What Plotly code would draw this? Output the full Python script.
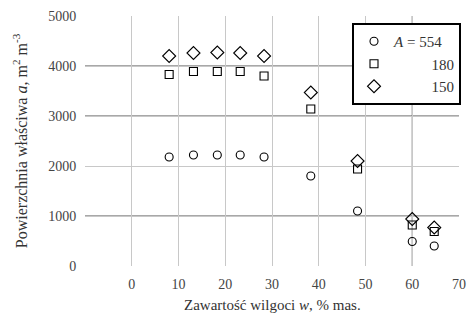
import plotly.graph_objects as go

w_A554 = [8, 13.2, 18.3, 23.2, 28.3, 38.3, 48.3, 60, 64.7]
a_A554 = [2180, 2220, 2220, 2220, 2180, 1800, 1100, 490, 400]
w_180 = [8, 13.2, 18.3, 23.2, 28.3, 38.3, 48.3, 60, 64.7]
a_180 = [3830, 3890, 3890, 3890, 3800, 3140, 1940, 820, 690]
w_150 = [8, 13.2, 18.3, 23.2, 28.3, 38.3, 48.3, 60, 64.7]
a_150 = [4200, 4260, 4270, 4260, 4200, 3470, 2100, 940, 770]
names = ["<i>A</i> = 554", "&nbsp;&nbsp;&nbsp;&nbsp;&nbsp;&nbsp;&nbsp;&nbsp;&nbsp;&nbsp;180",
         "&nbsp;&nbsp;&nbsp;&nbsp;&nbsp;&nbsp;&nbsp;&nbsp;&nbsp;&nbsp;150"]
x_ticks = [0, 10, 20, 30, 40, 50, 60, 70]
y_ticks = [0, 1000, 2000, 3000, 4000, 5000]
dark_y = [1000, 3000, 4000]
dark_x = [60]
x_title = "Zawartość wilgoci <i>w</i>, % mas."
y_title = "Powierzchnia właściwa <i>a</i>, m<sup>2</sup> m<sup>-3</sup>"

font = "Liberation Serif, Times New Roman, serif"
fig = go.Figure()
series = [(w_A554, a_A554, "circle-open", 8), (w_180, a_180, "square-open", 8),
          (w_150, a_150, "diamond-open", 10)]
for (x, y, sym, sz), nm in zip(series, names):
    fig.add_trace(go.Scatter(x=x, y=y, mode="markers", name=nm,
                             marker=dict(symbol=sym, size=sz, color="black",
                                         line=dict(color="black", width=1.1))))

shapes = []
for yv in dark_y:
    shapes.append(dict(type="line", xref="paper", yref="y", x0=0, x1=1, y0=yv, y1=yv,
                       line=dict(color="#505050", width=1), layer="below"))
for xv in dark_x:
    shapes.append(dict(type="line", xref="x", yref="paper", x0=xv, x1=xv, y0=0, y1=1,
                       line=dict(color="#505050", width=1), layer="below"))

annotations = [
    dict(text=x_title, xref="paper", yref="paper", x=(273 - 85) / 375, y=-(305 - 266) / 250,
         xanchor="center", yanchor="middle", showarrow=False,
         font=dict(family=font, size=15, color="#333")),
    dict(text=y_title, xref="paper", yref="paper", x=-(85 - 20) / 375, y=0.5,
         xanchor="center", yanchor="middle", showarrow=False, textangle=-90,
         font=dict(family=font, size=16, color="#333")),
]

fig.update_layout(
    width=468, height=327,
    margin=dict(l=85, r=8, t=16, b=61),
    paper_bgcolor="white", plot_bgcolor="white",
    font=dict(family=font, size=12, color="#333"),
    shapes=shapes, annotations=annotations,
    showlegend=True,
    legend=dict(x=(352 - 85) / 375, y=(266 - 23) / 250, xanchor="left", yanchor="top",
                bordercolor="black", borderwidth=2, bgcolor="white",
                font=dict(family=font, size=15, color="#333"),
                tracegroupgap=0, itemwidth=30),
    xaxis=dict(range=[-10, 70], tickvals=x_ticks, showgrid=True, gridcolor="#c8c8c8",
               gridwidth=1, zeroline=False, showline=False, automargin=False,
               ticks="outside", ticklen=5, tickcolor="rgba(0,0,0,0)",
               tickfont=dict(family=font, size=14, color="#444")),
    yaxis=dict(range=[0, 5000], tickvals=y_ticks, showgrid=True, gridcolor="#c8c8c8",
               gridwidth=1, zeroline=False, showline=False, automargin=False,
               ticks="outside", ticklen=5, tickcolor="rgba(0,0,0,0)",
               tickfont=dict(family=font, size=14, color="#444")),
)
fig.write_html("out.html", config={"displayModeBar": False},
               post_script="document.body.style.margin='0';")
